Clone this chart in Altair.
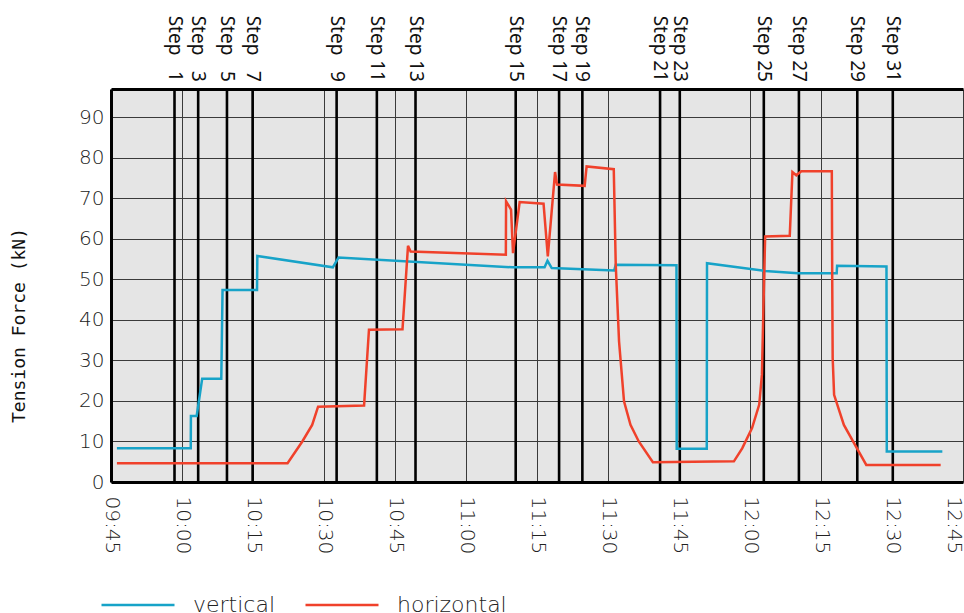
import altair as alt
import pandas as pd

DAY = "2000-01-01T"

# Vertical cable tension (kN) against clock time
vertical_time = ["09:46:15", "10:01:51", "10:01:53", "10:03:06", "10:04:16", "10:08:18",
                 "10:08:34", "10:15:51", "10:15:55", "10:31:52", "10:33:04", "11:09:47",
                 "11:16:36", "11:17:13", "11:18:07", "11:31:18", "11:31:38", "11:44:28",
                 "11:44:31", "11:50:52", "11:50:55", "12:03:12", "12:10:07", "12:18:19",
                 "12:18:24", "12:28:50", "12:28:54", "12:40:38"]
vertical_kn = [8.3, 8.3, 16.3, 16.3, 25.5, 25.5, 47.4, 47.4, 55.8, 53.0, 55.4, 53.0,
               53.0, 54.6, 52.8, 52.2, 53.6, 53.5, 8.2, 8.2, 54.0, 52.1, 51.5, 51.5,
               53.4, 53.2, 7.5, 7.5]

# Horizontal cable tension (kN) against clock time
horizontal_time = ["09:46:15", "10:22:18", "10:25:25", "10:27:30", "10:28:45", "10:38:28",
                   "10:39:30", "10:46:35", "10:47:45", "10:48:18", "11:08:25", "11:08:28",
                   "11:09:31", "11:09:56", "11:11:20", "11:16:23", "11:17:17", "11:18:49",
                   "11:19:14", "11:25:04", "11:25:29", "11:31:13", "11:31:38", "11:32:20",
                   "11:33:23", "11:34:45", "11:36:30", "11:39:29", "11:56:36", "11:58:21",
                   "12:00:26", "12:01:57", "12:02:31", "12:02:50", "12:03:12", "12:08:24",
                   "12:08:58", "12:09:47", "12:10:50", "12:17:17", "12:17:22", "12:17:28",
                   "12:17:46", "12:19:50", "12:22:36", "12:24:34", "12:40:17"]
horizontal_kn = [4.65, 4.65, 10.0, 14.1, 18.6, 18.9, 37.6, 37.7, 58.3, 56.9, 56.1, 69.3,
                 67.2, 56.5, 69.1, 68.7, 55.7, 76.5, 73.4, 73.1, 77.9, 77.2, 53.7, 34.7,
                 19.9, 14.1, 10.0, 4.9, 5.1, 8.3, 13.3, 19.1, 26.5, 42.9, 60.6, 60.8,
                 76.5, 75.7, 76.7, 76.7, 51.2, 30.6, 21.5, 14.1, 8.3, 4.2, 4.2]

# Procedure steps (a figure space pads the one-digit numbers)
step_label = ["Step \u20071", "Step \u20073", "Step \u20075", "Step \u20077", "Step \u20079",
              "Step 11", "Step 13", "Step 15", "Step 17", "Step 19", "Step 21", "Step 23",
              "Step 25", "Step 27", "Step 29", "Step 31"]
step_time = ["09:58:25", "10:03:25", "10:09:30", "10:14:55", "10:32:40", "10:41:10",
             "10:49:20", "11:10:30", "11:19:40", "11:24:35", "11:41:00", "11:45:10",
             "12:02:55", "12:10:20", "12:22:40", "12:30:10"]

# Quarter-hour ticks of the time axis
tick_hours = [9, 10, 10, 10, 10, 11, 11, 11, 11, 12, 12, 12, 12]
tick_minutes = [45, 0, 15, 30, 45, 0, 15, 30, 45, 0, 15, 30, 45]

series_names = ["vertical", "horizontal"]
series_colors = ["#17a3c8", "#f0412b"]

lines = pd.DataFrame({
    "time": [DAY + t for t in vertical_time] + [DAY + t for t in horizontal_time],
    "kN": vertical_kn + horizontal_kn,
    "series": ["vertical"] * len(vertical_time) + ["horizontal"] * len(horizontal_time),
    "seq": list(range(len(vertical_time))) + list(range(len(horizontal_time))),
})
steps = pd.DataFrame({"time": [DAY + t for t in step_time], "label": step_label})


def clock(h, m):
    return alt.DateTime(year=2000, month=1, date=1, hours=h, minutes=m)


tick_values = [clock(h, m) for h, m in zip(tick_hours, tick_minutes)]

LABEL_FONT = "DejaVu Sans"
LABEL_WEIGHT = 300
LABEL_COLOR = "#222222"
x_scale = alt.Scale(domain=[tick_values[0], tick_values[-1]], nice=False)

step_rules = alt.Chart(steps).mark_rule(color="#000000", strokeWidth=2.6).encode(
    x=alt.X("time:T", scale=x_scale,
            axis=alt.Axis(orient="top", labels=False, ticks=False, grid=False,
                          domain=True, domainColor="#000000", domainWidth=3, title=None))
)

force = alt.Chart(lines).mark_line(strokeWidth=2.5).encode(
    x=alt.X("time:T", scale=x_scale,
            axis=alt.Axis(title=None, format="%H:%M", values=tick_values,
                          labelAngle=90, labelAlign="left",
                          # the last label is kept inside the right edge
                          labelBaseline={"condition": {"test": "datum.label == '12:45'",
                                                       "value": "top"},
                                         "value": "middle"},
                          labelFlush=False, ticks=False, tickSize=0, labelPadding=14,
                          labelFont=LABEL_FONT, labelFontSize=20, labelFontWeight=LABEL_WEIGHT,
                          labelColor=LABEL_COLOR,
                          grid=True, gridColor="#3a3a3a", gridWidth=1,
                          domainColor="#000000", domainWidth=3)),
    y=alt.Y("kN:Q", scale=alt.Scale(domain=[0, 97], nice=False),
            axis=alt.Axis(values=list(range(0, 100, 10)), title="Tension Force (kN)",
                          titleFont="DejaVu Sans Mono", titleFontSize=18,
                          titleFontWeight="normal", titleColor="#111111",
                          titleX=-92, titleY=236, titleBaseline="middle", titleAlign="center",
                          labelFont=LABEL_FONT, labelFontSize=20, labelFontWeight=LABEL_WEIGHT,
                          labelColor=LABEL_COLOR, labelPadding=7, ticks=False, tickSize=0,
                          labelFlush=False,
                          grid=True, gridColor="#3a3a3a", gridWidth=1,
                          domainColor="#000000", domainWidth=3)),
    color=alt.Color("series:N",
                    scale=alt.Scale(domain=series_names, range=series_colors),
                    legend=alt.Legend(title=None, orient="none", legendX=-11, legendY=478,
                                      direction="horizontal", symbolType="stroke",
                                      symbolSize=5330, symbolStrokeWidth=2.5,
                                      labelFont=LABEL_FONT, labelFontSize=22,
                                      labelFontWeight=LABEL_WEIGHT, labelColor=LABEL_COLOR,
                                      labelOffset=17, columnPadding=24, padding=0)),
    order=alt.Order("seq:Q"),
)

step_text = alt.Chart(steps).mark_text(
    angle=90, align="right", baseline="middle", font="Noto Sans", fontSize=19, color="#111111"
).encode(
    x=alt.X("time:T", scale=x_scale, axis=None),
    y=alt.value(-7),
    text="label:N",
)

chart = alt.layer(step_rules, force, step_text).resolve_axis(x="independent").properties(
    width=852,
    height=393,
    padding={"left": 111, "top": 89, "right": 1, "bottom": 131},
    autosize=alt.AutoSizeParams(type="none"),
).configure_view(fill="#e5e5e5", stroke=None)

chart.save("out.html", embed_options={"renderer": "svg", "actions": False})
